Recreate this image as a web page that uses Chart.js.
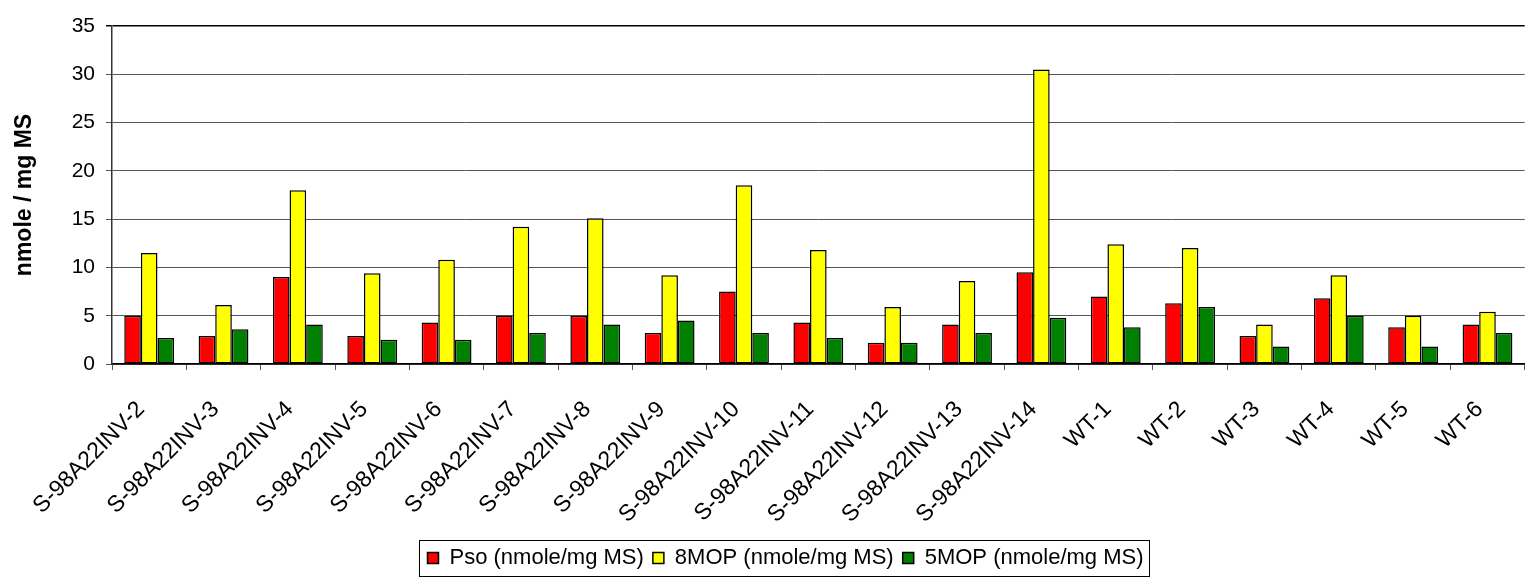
<!DOCTYPE html>
<html>
<head>
<meta charset="utf-8">
<script src="https://cdn.jsdelivr.net/npm/chart.js@4.4.0/dist/chart.umd.min.js"></script>
<style>
  html, body { margin: 0; padding: 0; background: #fff; overflow: hidden; }
  #wrap { width: 1533px; height: 579px; position: relative; }
</style>
</head>
<body>
<div id="wrap"><canvas id="bars"></canvas></div>
<script>
// data
var categories = [
    "S-98A22INV-2", "S-98A22INV-3", "S-98A22INV-4", "S-98A22INV-5",
    "S-98A22INV-6", "S-98A22INV-7", "S-98A22INV-8", "S-98A22INV-9",
    "S-98A22INV-10", "S-98A22INV-11", "S-98A22INV-12", "S-98A22INV-13",
    "S-98A22INV-14", "WT-1", "WT-2", "WT-3", "WT-4", "WT-5", "WT-6"
];
var psoValues  = [5.0, 2.9, 9.0, 2.9, 4.3, 5.0, 5.0, 3.2, 7.5, 4.3, 2.2, 4.1, 9.5, 7.0, 6.3, 2.9, 6.8, 3.8, 4.1];
var mop8Values = [11.5, 6.1, 18.0, 9.4, 10.8, 14.2, 15.1, 9.2, 18.5, 11.8, 5.9, 8.6, 30.5, 12.4, 12.0, 4.1, 9.2, 5.0, 5.4];
var mop5Values = [2.7, 3.6, 4.1, 2.5, 2.5, 3.2, 4.1, 4.5, 3.2, 2.7, 2.2, 3.2, 4.8, 3.8, 5.9, 1.8, 5.0, 1.8, 3.2];
var seriesNames = ["Pso (nmole/mg MS)", "8MOP (nmole/mg MS)", "5MOP (nmole/mg MS)"];
var yTicks = { min: 0, max: 35, step: 5 };
var yTitle = "nmole / mg MS";

var FONT = "'Liberation Sans', Arial, sans-serif";

// nudge the legend a bit right, then draw a box round it
var legendFrame = {
    id: 'legendFrame',
    afterLayout: function (chart) {
        if (chart.legend) {
            chart.legend.left += 19;
            chart.legend.right += 19;
        }
    },
    afterDraw: function (chart) {
        var boxes = chart.legend && chart.legend.legendHitBoxes;
        if (!boxes || !boxes.length) return;
        var l = Infinity, r = -Infinity, t = Infinity, b = -Infinity;
        boxes.forEach(function (h) {
            l = Math.min(l, h.left); r = Math.max(r, h.left + h.width);
            t = Math.min(t, h.top); b = Math.max(b, h.top + h.height);
        });
        var ctx = chart.ctx;
        ctx.save();
        ctx.strokeStyle = '#000';
        ctx.lineWidth = 1;
        ctx.strokeRect(Math.round(l - 8) + 0.5, Math.round(t - 7) + 0.5, Math.round(r - l + 14), Math.round(b - t + 14));
        ctx.restore();
    }
};

function makeSet(label, values, color) {
    return {
        label: label,
        data: values,
        backgroundColor: color,
        borderColor: '#000',
        borderWidth: 1.5,
        borderSkipped: false,
        categoryPercentage: 0.67,
        barPercentage: 1.0
    };
}

var ctx = document.getElementById("bars").getContext("2d");
new Chart(ctx, {
    type: "bar",
    data: {
        labels: categories,
        datasets: [
            makeSet(seriesNames[0], psoValues, '#FF0000'),
            makeSet(seriesNames[1], mop8Values, '#FFFF00'),
            makeSet(seriesNames[2], mop5Values, '#008000')
        ]
    },
    options: {
        responsive: true,
        maintainAspectRatio: false,
        animation: false,
        layout: { padding: { top: 26, left: 0, right: 0, bottom: 0 } },
        plugins: {
            tooltip: { enabled: false },
            legend: {
                display: true,
                position: "bottom",
                labels: {
                    boxWidth: 11,
                    boxHeight: 11,
                    padding: 9,
                    color: '#000',
                    font: { family: FONT, size: 22 }
                }
            }
        },
        scales: {
            x: {
                afterFit: function (scale) { scale.height = 174; },
                grid: {
                    display: true,
                    offset: true,
                    drawOnChartArea: false,
                    drawTicks: true,
                    tickLength: 6,
                    color: '#555'
                },
                border: { display: true, color: '#000', width: 1.5 },
                ticks: {
                    autoSkip: false,
                    maxRotation: 45,
                    minRotation: 45,
                    padding: 26,
                    labelOffset: -8,
                    color: '#000',
                    font: { family: FONT, size: 23 }
                }
            },
            y: {
                min: yTicks.min,
                max: yTicks.max,
                afterFit: function (scale) { scale.width = 112; },
                title: {
                    display: true,
                    text: yTitle,
                    color: '#000',
                    padding: { top: 11, bottom: 0 },
                    font: { family: FONT, size: 23, weight: 'bold' }
                },
                grid: {
                    color: function (c) { return c.tick && c.tick.value === yTicks.max ? '#000' : '#555'; },
                    lineWidth: function (c) { return c.tick && c.tick.value === yTicks.max ? 1.5 : 1; },
                    tickLength: 6
                },
                border: { display: true, color: '#333', width: 1.5 },
                ticks: {
                    stepSize: yTicks.step,
                    padding: 11,
                    color: '#000',
                    font: { family: FONT, size: 21 }
                }
            }
        }
    },
    plugins: [legendFrame]
});
</script>
</body>
</html>
